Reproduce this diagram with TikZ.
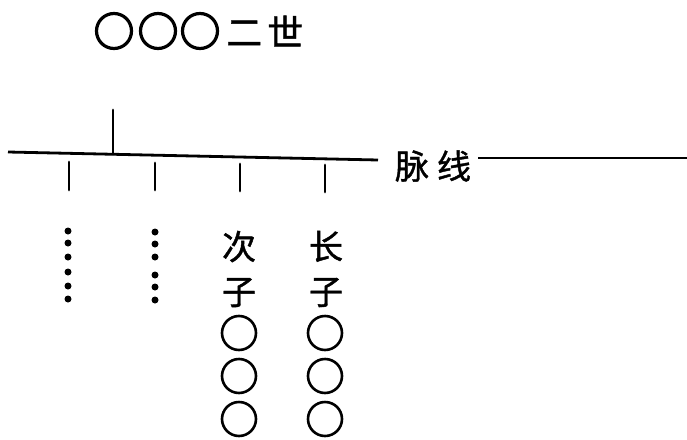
\documentclass[tikz,border=0pt]{standalone}
\usepackage{fontspec}
\newfontfamily\cjk[FakeBold=1.2]{Noto Sans CJK SC}
\begin{document}
\begin{tikzpicture}[x=1pt,y=-1pt,
  ring/.style={draw=black,circle,line width=2.6pt,minimum size=34pt,inner sep=0pt},
  bigring/.style={ring,line width=3.2pt,minimum size=35pt},
  stroke/.style={line width=2.8pt,line cap=round},
  label/.style={font=\cjk\fontsize{34}{45}\selectfont,inner sep=0pt,align=center},
  dot/.style={fill=black,circle,inner sep=0pt,minimum size=7pt}]
\useasboundingbox (0,0) rectangle (687,439);
% top row
\node[bigring] (t1) at (114,31) {};
\node[bigring] (t2) at (158,31) {};
\node[bigring] (t3) at (200,31) {};
\node[label,font=\cjk\fontsize{36}{40}\selectfont,anchor=west] (er) at (226,31) {二\hspace{5pt}世};
% main line
\coordinate (L) at (8,152);
\coordinate (M) at (378,160);
\coordinate (N) at (478,158);
\coordinate (R) at (687,158);
\node[label] (mai) at (433,166) {脉\hspace{8pt}线};
\draw[line width=2.8pt] (L) -- (M);
\draw[line width=2.4pt] (N) -- (R);
% upper branch
\coordinate (u0) at (113,110);
\coordinate (u1) at (113,154);
\draw[stroke] (u0) -- (u1);
% lower branches
\coordinate (a0) at (69,162); \coordinate (a1) at (69,190);
\coordinate (b0) at (155,163); \coordinate (b1) at (155,190);
\coordinate (c0) at (240,164); \coordinate (c1) at (240,191);
\coordinate (d0) at (325,165); \coordinate (d1) at (325,192);
\draw[stroke] (a0) -- (a1);
\draw[stroke] (b0) -- (b1);
\draw[stroke] (c0) -- (c1);
\draw[stroke] (d0) -- (d1);
% dots
\foreach \y [count=\i] in {231,243,257,272,286,299} \node[dot] (da\i) at (68,\y) {};
\foreach \y [count=\i] in {232,244,257,275,287,300} \node[dot] (db\i) at (155,\y) {};
% sons
\node[label] (ci) at (239,269) {次\\子};
\node[label] (zh) at (326,269) {长\\子};
\node[ring] (c1r) at (239,333) {};
\node[ring] (c2r) at (239,376) {};
\node[ring] (c3r) at (239,419) {};
\node[ring] (z1r) at (325,333) {};
\node[ring] (z2r) at (325,376) {};
\node[ring] (z3r) at (325,419) {};
\end{tikzpicture}
\end{document}
